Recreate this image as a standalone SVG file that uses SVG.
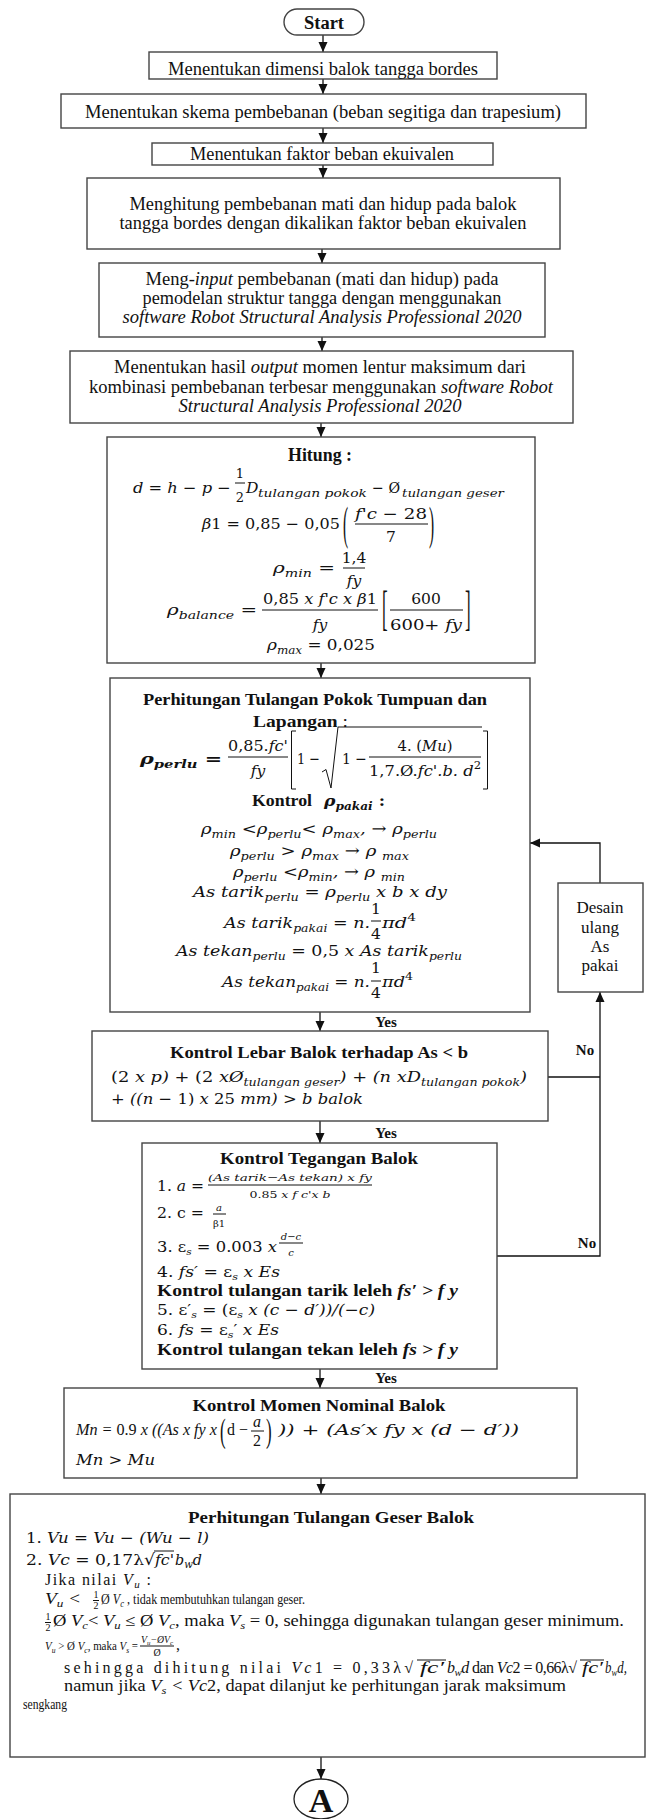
<svg xmlns="http://www.w3.org/2000/svg" width="646" height="1819" viewBox="0 0 646 1819">
<defs>
<style>
text{font-family:"Liberation Serif","Times New Roman",serif;fill:#111}
.m{font-family:"DejaVu Serif","Liberation Serif",serif}
.a{font-size:18px}
.f17{font-size:17px}
.n{font-size:16px}
.m16{font-size:15.5px}
.s{font-size:11px}
.xs{font-size:10px}
.b{font-weight:bold}
.i{font-style:italic}
.u{font-style:normal}
.c{text-anchor:middle}
.box{fill:#fff;stroke:#444;stroke-width:1.4}
.ln{stroke:#111;stroke-width:1.3;fill:none}
.bar{stroke:#111;stroke-width:1}
.lbl{font-size:15px;font-weight:bold;text-anchor:middle}
</style>
<marker id="ah" markerWidth="10" markerHeight="10" refX="10" refY="5" orient="auto" markerUnits="userSpaceOnUse"><path d="M0,0.5 L10,5 L0,9.5 z" fill="#111"/></marker>
</defs>
<rect width="646" height="1819" fill="#fff"/>

<g id="connectors">
<path class="ln" d="M323,35 V52" marker-end="url(#ah)"/>
<path class="ln" d="M323,79 V94" marker-end="url(#ah)"/>
<path class="ln" d="M323,128 V143" marker-end="url(#ah)"/>
<path class="ln" d="M323,165 V178" marker-end="url(#ah)"/>
<path class="ln" d="M322,249 V263" marker-end="url(#ah)"/>
<path class="ln" d="M322,337 V351" marker-end="url(#ah)"/>
<path class="ln" d="M321,423 V437" marker-end="url(#ah)"/>
<path class="ln" d="M321,663 V678" marker-end="url(#ah)"/>
<path class="ln" d="M320,1012 V1031" marker-end="url(#ah)"/>
<path class="ln" d="M320,1121 V1143" marker-end="url(#ah)"/>
<path class="ln" d="M320,1369 V1388" marker-end="url(#ah)"/>
<path class="ln" d="M321,1478 V1494" marker-end="url(#ah)"/>
<path class="ln" d="M321,1757 V1779" marker-end="url(#ah)"/>
<path class="ln" d="M548,1077 H600"/>
<path class="ln" d="M497,1256 H600 V992" marker-end="url(#ah)"/>
<path class="ln" d="M600,883 V843 H530" marker-end="url(#ah)"/>
<text class="lbl" x="386" y="1027">Yes</text>
<text class="lbl" x="386" y="1138">Yes</text>
<text class="lbl" x="386" y="1383">Yes</text>
<text class="lbl" x="585" y="1055">No</text>
<text class="lbl" x="587" y="1248">No</text>
</g>

<g id="start">
<rect class="box" x="284" y="9" width="80" height="26" rx="13"/>
<text class="a b c" x="324" y="29" textLength="40" lengthAdjust="spacingAndGlyphs">Start</text>
</g>

<g id="n1">
<rect class="box" x="149" y="52" width="348" height="27"/>
<text class="a c" x="323" y="75" textLength="310" lengthAdjust="spacingAndGlyphs">Menentukan dimensi balok tangga bordes</text>
</g>

<g id="n2">
<rect class="box" x="61" y="94" width="525" height="34"/>
<text class="a c" x="323" y="118" textLength="476" lengthAdjust="spacingAndGlyphs">Menentukan skema pembebanan (beban segitiga dan trapesium)</text>
</g>

<g id="n3">
<rect class="box" x="152" y="143" width="341" height="22"/>
<text class="a c" x="322" y="160" textLength="264" lengthAdjust="spacingAndGlyphs">Menentukan faktor beban ekuivalen</text>
</g>

<g id="n4">
<rect class="box" x="87" y="178" width="473" height="71"/>
<text class="a c" x="323" y="210" textLength="387" lengthAdjust="spacingAndGlyphs">Menghitung pembebanan mati dan hidup pada balok</text>
<text class="a c" x="323" y="229" textLength="407" lengthAdjust="spacingAndGlyphs">tangga bordes dengan dikalikan faktor beban ekuivalen</text>
</g>

<g id="n5">
<rect class="box" x="99" y="263" width="446" height="74"/>
<text class="a c" x="322" y="285" textLength="353" lengthAdjust="spacingAndGlyphs">Meng-<tspan class="i">input</tspan> pembebanan (mati dan hidup) pada</text>
<text class="a c" x="322" y="304" textLength="359" lengthAdjust="spacingAndGlyphs">pemodelan struktur tangga dengan menggunakan</text>
<text class="a c i" x="322" y="323" textLength="399" lengthAdjust="spacingAndGlyphs">software Robot Structural Analysis Professional 2020</text>
</g>

<g id="n6">
<rect class="box" x="70" y="351" width="503" height="72"/>
<text class="a c" x="320" y="373" textLength="412" lengthAdjust="spacingAndGlyphs">Menentukan hasil <tspan class="i">output</tspan> momen lentur maksimum dari</text>
<text class="a c" x="321" y="393" textLength="464" lengthAdjust="spacingAndGlyphs">kombinasi pembebanan terbesar menggunakan <tspan class="i">software Robot</tspan></text>
<text class="a c i" x="320" y="412" textLength="283" lengthAdjust="spacingAndGlyphs">Structural Analysis Professional 2020</text>
</g>

<g id="n7">
<rect class="box" x="107" y="437" width="428" height="226"/>
<text class="a b c" x="320" y="461" textLength="64" lengthAdjust="spacingAndGlyphs">Hitung :</text>
<text class="m m16 i" x="133" y="493" textLength="98" lengthAdjust="spacingAndGlyphs">d = h − p −</text>
<text class="m c" font-size="13" x="240" y="478">1</text>
<line class="bar" x1="235" y1="483" x2="245" y2="483"/>
<text class="m c" font-size="13" x="240" y="502">2</text>
<text class="m m16 i" x="246" y="493">D</text>
<text class="m s i" x="258" y="497" textLength="109" lengthAdjust="spacingAndGlyphs">tulangan pokok</text>
<text class="m m16" x="372" y="493" textLength="28" lengthAdjust="spacingAndGlyphs">− Ø</text>
<text class="m s i" x="402" y="497" textLength="102" lengthAdjust="spacingAndGlyphs">tulangan geser</text>

<text class="m m16" x="202" y="529" textLength="138" lengthAdjust="spacingAndGlyphs"><tspan class="i">β</tspan>1 = 0,85 − 0,05</text>
<text class="f17" transform="translate(343,538.7) scale(0.9,2.7)">(</text>
<text class="m m16 c" x="391" y="519" textLength="72" lengthAdjust="spacingAndGlyphs"><tspan class="i">f'c</tspan> − 28</text>
<line class="bar" x1="355" y1="524" x2="428" y2="524"/>
<text class="m m16 c" x="391" y="542">7</text>
<text class="f17" transform="translate(429,538.7) scale(0.9,2.7)">)</text>

<text class="m m16" x="273" y="573" textLength="62" lengthAdjust="spacingAndGlyphs"><tspan class="i">ρ</tspan><tspan class="s i" dy="4">min</tspan><tspan dy="-4"> =</tspan></text>
<text class="m m16 c" x="354" y="563">1,4</text>
<line class="bar" x1="343" y1="568" x2="365" y2="568"/>
<text class="m m16 c i" x="354" y="586">fy</text>

<text class="m m16" x="167" y="615" textLength="90" lengthAdjust="spacingAndGlyphs"><tspan class="i">ρ</tspan><tspan class="s i" dy="4">balance</tspan><tspan dy="-4"> =</tspan></text>
<text class="m m16 c" x="320" y="604" textLength="114" lengthAdjust="spacingAndGlyphs">0,85 <tspan class="i">x f'c x β</tspan>1</text>
<line class="bar" x1="262" y1="610" x2="378" y2="610"/>
<text class="m m16 c i" x="320" y="630">fy</text>
<text class="f17" transform="translate(382,624.4) scale(1,2.8)">[</text>
<text class="m m16 c" x="426" y="604">600</text>
<line class="bar" x1="390" y1="610" x2="463" y2="610"/>
<text class="m m16 c" x="426" y="630" textLength="72" lengthAdjust="spacingAndGlyphs">600+ <tspan class="i">fy</tspan></text>
<text class="f17" transform="translate(465,624.4) scale(1,2.8)">]</text>

<text class="m m16" x="267" y="650" textLength="108" lengthAdjust="spacingAndGlyphs"><tspan class="i">ρ</tspan><tspan class="s i" dy="4">max</tspan><tspan dy="-4"> = 0,025</tspan></text>
</g>

<g id="n8">
<rect class="box" x="110" y="678" width="420" height="334"/>
<text class="f17 b c" x="315" y="705" textLength="344" lengthAdjust="spacingAndGlyphs">Perhitungan Tulangan Pokok Tumpuan dan</text>
<text class="f17" x="253" y="727" textLength="95" lengthAdjust="spacingAndGlyphs"><tspan class="b">Lapangan</tspan> :</text>
<text class="m m16 b i" x="140" y="764" textLength="82" lengthAdjust="spacingAndGlyphs">ρ<tspan class="s" dy="4">perlu</tspan><tspan dy="-4" class="u"> =</tspan></text>
<text class="m m16 c" x="258" y="751" textLength="60" lengthAdjust="spacingAndGlyphs">0,85.<tspan class="i">fc'</tspan></text>
<line class="bar" x1="228" y1="757" x2="288" y2="757"/>
<text class="m m16 c i" x="258" y="776">fy</text>
<path class="bar" d="M296,731 H291.5 V789 H296" fill="none" stroke-width="1.2"/>
<text class="m m16" x="297" y="764" textLength="23" lengthAdjust="spacingAndGlyphs">1 −</text>
<path class="bar" d="M322,772 L326,769.5 L331,788 L338,727 H482" fill="none"/>
<text class="m m16" x="342" y="764" textLength="25" lengthAdjust="spacingAndGlyphs">1 −</text>
<text class="m m16 c" x="425" y="751" textLength="55" lengthAdjust="spacingAndGlyphs">4. (<tspan class="i">Mu</tspan>)</text>
<line class="bar" x1="369" y1="757" x2="481" y2="757"/>
<text class="m m16 c i" x="425" y="776" textLength="112" lengthAdjust="spacingAndGlyphs"><tspan class="u">1,7.Ø.</tspan>fc'.b. d<tspan class="s u" dy="-7">2</tspan></text>
<path class="bar" d="M483,731 H487.5 V789 H483" fill="none" stroke-width="1.2"/>

<text class="f17 b" x="252" y="806" textLength="60" lengthAdjust="spacingAndGlyphs">Kontrol</text>
<text class="m m16 b i" x="324" y="806" textLength="61" lengthAdjust="spacingAndGlyphs">ρ<tspan class="s" dy="4">pakai</tspan><tspan dy="-4" class="u"> :</tspan></text>

<text class="m m16 i" x="201" y="834" textLength="236" lengthAdjust="spacingAndGlyphs">ρ<tspan class="s" dy="4">min</tspan><tspan dy="-4"> &lt;ρ</tspan><tspan class="s" dy="4">perlu</tspan><tspan dy="-4">&lt; ρ</tspan><tspan class="s" dy="4">max</tspan><tspan dy="-4">, → ρ</tspan><tspan class="s" dy="4">perlu</tspan></text>
<text class="m m16 i" x="230" y="856" textLength="179" lengthAdjust="spacingAndGlyphs">ρ<tspan class="s" dy="4">perlu</tspan><tspan dy="-4"> &gt; ρ</tspan><tspan class="s" dy="4">max</tspan><tspan dy="-4"> → ρ </tspan><tspan class="s" dy="4">max</tspan></text>
<text class="m m16 i" x="233" y="877" textLength="172" lengthAdjust="spacingAndGlyphs">ρ<tspan class="s" dy="4">perlu</tspan><tspan dy="-4"> &lt;ρ</tspan><tspan class="s" dy="4">min</tspan><tspan dy="-4">, → ρ </tspan><tspan class="s" dy="4">min</tspan></text>
<text class="m m16 i" x="193" y="897" textLength="254" lengthAdjust="spacingAndGlyphs">As tarik<tspan class="s" dy="4">perlu</tspan><tspan dy="-4">  =  ρ</tspan><tspan class="s" dy="4">perlu</tspan><tspan dy="-4"> x b x dy</tspan></text>
<text class="m m16 i" x="224" y="928" textLength="146" lengthAdjust="spacingAndGlyphs">As tarik<tspan class="s" dy="4">pakai</tspan><tspan dy="-4"> = n.</tspan></text>
<text class="m m16 c" x="376" y="914">1</text>
<line class="bar" x1="371" y1="921" x2="381" y2="921"/>
<text class="m m16 c" x="376" y="939">4</text>
<text class="m m16 i" x="382" y="928" textLength="34" lengthAdjust="spacingAndGlyphs">πd<tspan class="s u" dy="-7">4</tspan></text>
<text class="m m16 i" x="176" y="956" textLength="286" lengthAdjust="spacingAndGlyphs">As tekan<tspan class="s" dy="4">perlu</tspan><tspan dy="-4">  = </tspan><tspan class="u">0,5</tspan> x As tarik<tspan class="s" dy="4">perlu</tspan></text>
<text class="m m16 i" x="222" y="987" textLength="148" lengthAdjust="spacingAndGlyphs">As tekan<tspan class="s" dy="4">pakai</tspan><tspan dy="-4"> = n.</tspan></text>
<text class="m m16 c" x="376" y="973">1</text>
<line class="bar" x1="371" y1="981" x2="381" y2="981"/>
<text class="m m16 c" x="376" y="998">4</text>
<text class="m m16 i" x="382" y="987" textLength="31" lengthAdjust="spacingAndGlyphs">πd<tspan class="s u" dy="-7">4</tspan></text>
</g>

<g id="desain">
<rect class="box" x="558" y="883" width="85" height="109"/>
<text class="f17 c" x="600" y="913">Desain</text>
<text class="f17 c" x="600" y="933">ulang</text>
<text class="f17 c" x="600" y="952">As</text>
<text class="f17 c" x="600" y="971">pakai</text>
</g>

<g id="n9">
<rect class="box" x="92" y="1031" width="456" height="90"/>
<text class="f17 b c" x="319" y="1058" textLength="298" lengthAdjust="spacingAndGlyphs">Kontrol Lebar Balok terhadap As &lt; b</text>
<text class="m m16 i" x="111" y="1082" textLength="416" lengthAdjust="spacingAndGlyphs"><tspan class="u">(2</tspan> x p) + <tspan class="u">(2</tspan> xØ<tspan class="s" dy="4">tulangan geser</tspan><tspan dy="-4">) + (n xD</tspan><tspan class="s" dy="4">tulangan pokok</tspan><tspan dy="-4">)</tspan></text>
<text class="m m16 i" x="111" y="1104" textLength="252" lengthAdjust="spacingAndGlyphs">+ ((n − <tspan class="u">1)</tspan> x <tspan class="u">25</tspan> mm) &gt; b balok</text>
</g>

<g id="n10">
<rect class="box" x="142" y="1143" width="355" height="226"/>
<text class="f17 b c" x="319" y="1164" textLength="198" lengthAdjust="spacingAndGlyphs">Kontrol Tegangan Balok</text>
<text class="m m16" x="157" y="1191" textLength="47" lengthAdjust="spacingAndGlyphs">1. <tspan class="i">a</tspan> =</text>
<text class="m xs i" x="208" y="1181" textLength="164" lengthAdjust="spacingAndGlyphs">(As tarik−As tekan) x fy</text>
<line class="bar" x1="208" y1="1185" x2="372" y2="1185"/>
<text class="m xs i c" x="290" y="1198" textLength="81" lengthAdjust="spacingAndGlyphs"><tspan class="u">0.85</tspan> x f c'x b</text>
<text class="m m16" x="157" y="1218" textLength="47" lengthAdjust="spacingAndGlyphs">2. c =</text>
<text class="m xs i c" x="219" y="1211">a</text>
<line class="bar" x1="213" y1="1214" x2="226" y2="1214"/>
<text class="m xs c" x="219" y="1227">β1</text>
<text class="m m16" x="157" y="1252" textLength="120" lengthAdjust="spacingAndGlyphs">3. ε<tspan class="xs i" dy="3">s</tspan><tspan dy="-3"> = 0.003 </tspan><tspan class="i">x</tspan></text>
<text class="m xs i c" x="291" y="1240">d−c</text>
<line class="bar" x1="279" y1="1243" x2="303" y2="1243"/>
<text class="m xs i c" x="291" y="1256">c</text>
<text class="m m16" x="157" y="1277" textLength="123" lengthAdjust="spacingAndGlyphs">4. <tspan class="i">fs′</tspan> = ε<tspan class="xs i" dy="3">s</tspan><tspan dy="-3" class="i"> x Es</tspan></text>
<text class="n b" x="157" y="1296" textLength="301" lengthAdjust="spacingAndGlyphs">Kontrol tulangan tarik leleh <tspan class="i">fs′ &gt; f y</tspan></text>
<text class="m m16" x="157" y="1315" textLength="218" lengthAdjust="spacingAndGlyphs">5. ε′<tspan class="xs i" dy="3">s</tspan><tspan dy="-3"> = (ε</tspan><tspan class="xs i" dy="3">s</tspan><tspan dy="-3" class="i"> x (c − d′))/(−c)</tspan></text>
<text class="m m16" x="157" y="1335" textLength="122" lengthAdjust="spacingAndGlyphs">6. <tspan class="i">fs</tspan> = ε<tspan class="xs i" dy="3">s</tspan><tspan dy="-3">′</tspan><tspan class="i"> x Es</tspan></text>
<text class="n b" x="157" y="1355" textLength="301" lengthAdjust="spacingAndGlyphs">Kontrol tulangan tekan leleh <tspan class="i">fs &gt; f y</tspan></text>
</g>

<g id="n11">
<rect class="box" x="64" y="1388" width="513" height="90"/>
<text class="f17 b c" x="319" y="1411" textLength="253" lengthAdjust="spacingAndGlyphs">Kontrol Momen Nominal Balok</text>
<text class="i" font-size="16" x="76" y="1435" textLength="141" lengthAdjust="spacingAndGlyphs">Mn = <tspan class="u">0.9</tspan> x ((As x fy x</text>
<text class="f17" transform="translate(220,1442) scale(1,2)">(</text>
<text font-size="16" x="227" y="1435" textLength="21" lengthAdjust="spacingAndGlyphs">d −</text>
<text class="i c" font-size="16" x="257" y="1427">a</text>
<line class="bar" x1="251" y1="1431" x2="264" y2="1431"/>
<text class="c" font-size="16" x="257" y="1446">2</text>
<text class="f17" transform="translate(266,1442) scale(1,2)">)</text>
<text class="m m16 i" x="278" y="1435" textLength="241" lengthAdjust="spacingAndGlyphs">)) + (As′x fy x (d − d′))</text>
<text class="m m16 i" x="76" y="1465" textLength="79" lengthAdjust="spacingAndGlyphs">Mn &gt; Mu</text>
</g>

<g id="n12">
<rect class="box" x="10" y="1494" width="635" height="263"/>
<text class="f17 b c" x="331" y="1523" textLength="286" lengthAdjust="spacingAndGlyphs">Perhitungan Tulangan Geser Balok</text>
<text class="m m16" x="26" y="1543" textLength="183" lengthAdjust="spacingAndGlyphs">1. <tspan class="i">Vu = Vu − (Wu − l)</tspan></text>
<text class="m m16" x="26" y="1565" textLength="129" lengthAdjust="spacingAndGlyphs">2. <tspan class="i">Vc</tspan> = 0,17λ√</text>
<line class="bar" x1="154" y1="1551" x2="174" y2="1551"/>
<text class="m m16 i" x="155" y="1565" textLength="19" lengthAdjust="spacingAndGlyphs">fc'</text>
<text class="m m16 i" x="175" y="1565" textLength="27" lengthAdjust="spacingAndGlyphs">b<tspan class="s" dy="3">w</tspan><tspan dy="-3">d</tspan></text>
<text class="n" x="45" y="1585" textLength="106" lengthAdjust="spacing">Jika nilai  <tspan class="i">V</tspan><tspan class="s i" dy="3">u</tspan><tspan dy="-3"> :</tspan></text>

<text class="n i" x="45" y="1604" textLength="36" lengthAdjust="spacingAndGlyphs">V<tspan class="s" dy="3">u</tspan><tspan dy="-3"> &lt;</tspan></text>
<text class="xs c" x="96" y="1598">1</text>
<line class="bar" x1="93" y1="1600.5" x2="99" y2="1600.5"/>
<text class="xs c" x="96" y="1609">2</text>
<text x="101" y="1604" font-size="14" textLength="204" lengthAdjust="spacingAndGlyphs">Ø <tspan class="i">V</tspan><tspan class="xs i" dy="3">c</tspan><tspan dy="-3"> , tidak membutuhkan tulangan geser.</tspan></text>

<text class="xs c" x="48" y="1620">1</text>
<line class="bar" x1="45" y1="1622.5" x2="51" y2="1622.5"/>
<text class="xs c" x="48" y="1631">2</text>
<text class="n" x="53" y="1626" textLength="571" lengthAdjust="spacingAndGlyphs">Ø <tspan class="i">V</tspan><tspan class="s i" dy="3">c</tspan><tspan dy="-3">&lt; </tspan><tspan class="i">V</tspan><tspan class="s i" dy="3">u</tspan><tspan dy="-3"> ≤ Ø </tspan><tspan class="i">V</tspan><tspan class="s i" dy="3">c</tspan><tspan dy="-3">, maka </tspan><tspan class="i">V</tspan><tspan class="s i" dy="3">s</tspan><tspan dy="-3"> = 0, sehingga digunakan tulangan geser minimum.</tspan></text>

<text x="45" y="1650" font-size="11.5" textLength="93" lengthAdjust="spacingAndGlyphs"><tspan class="i">V</tspan><tspan font-size="8" class="i" dy="3">u</tspan><tspan dy="-3"> &gt; Ø </tspan><tspan class="i">V</tspan><tspan font-size="8" class="i" dy="3">c</tspan><tspan dy="-3">, maka </tspan><tspan class="i">V</tspan><tspan font-size="8" class="i" dy="3">s</tspan><tspan dy="-3"> =</tspan></text>
<text class="i c" font-size="10" x="157" y="1643" textLength="32" lengthAdjust="spacingAndGlyphs">V<tspan font-size="7" dy="2">u</tspan><tspan dy="-2">−ØV</tspan><tspan font-size="7" dy="2">c</tspan></text>
<line class="bar" x1="140" y1="1646" x2="174" y2="1646"/>
<text class="c" font-size="10" x="157" y="1656">Ø</text>
<text class="n" x="176" y="1650">,</text>

<text class="n" x="64" y="1673" textLength="349" lengthAdjust="spacing">sehingga  dihitung nilai <tspan class="i">Vc</tspan>1 = 0,33λ√</text>
<line class="bar" x1="417" y1="1660" x2="446" y2="1660"/>
<text class="n i" x="420" y="1673" textLength="24" lengthAdjust="spacingAndGlyphs">fc′</text>
<text class="n" x="447" y="1673" textLength="130" lengthAdjust="spacing"><tspan class="i">b</tspan><tspan class="s i" dy="3">w</tspan><tspan class="i" dy="-3">d</tspan> dan <tspan class="i">Vc</tspan>2 = 0,66λ√</text>
<line class="bar" x1="580" y1="1660" x2="604" y2="1660"/>
<text class="n i" x="582" y="1673" textLength="21" lengthAdjust="spacingAndGlyphs">fc′</text>
<text class="n i" x="605" y="1673" textLength="22" lengthAdjust="spacingAndGlyphs">b<tspan class="s" dy="3">w</tspan><tspan dy="-3">d,</tspan></text>

<text class="n" x="64" y="1691" textLength="502" lengthAdjust="spacingAndGlyphs">namun jika  <tspan class="i">V</tspan><tspan class="s i" dy="3">s</tspan><tspan dy="-3" class="i"> &lt; Vc</tspan>2, dapat dilanjut  ke perhitungan jarak maksimum</text>
<text x="23" y="1709" font-size="14" textLength="44" lengthAdjust="spacingAndGlyphs">sengkang</text>
</g>

<g id="connector-a">
<ellipse cx="321" cy="1799" rx="27" ry="20" fill="#fff" stroke="#222" stroke-width="1.3"/>
<text class="b c" font-size="34" x="321" y="1812">A</text>
</g>
</svg>
